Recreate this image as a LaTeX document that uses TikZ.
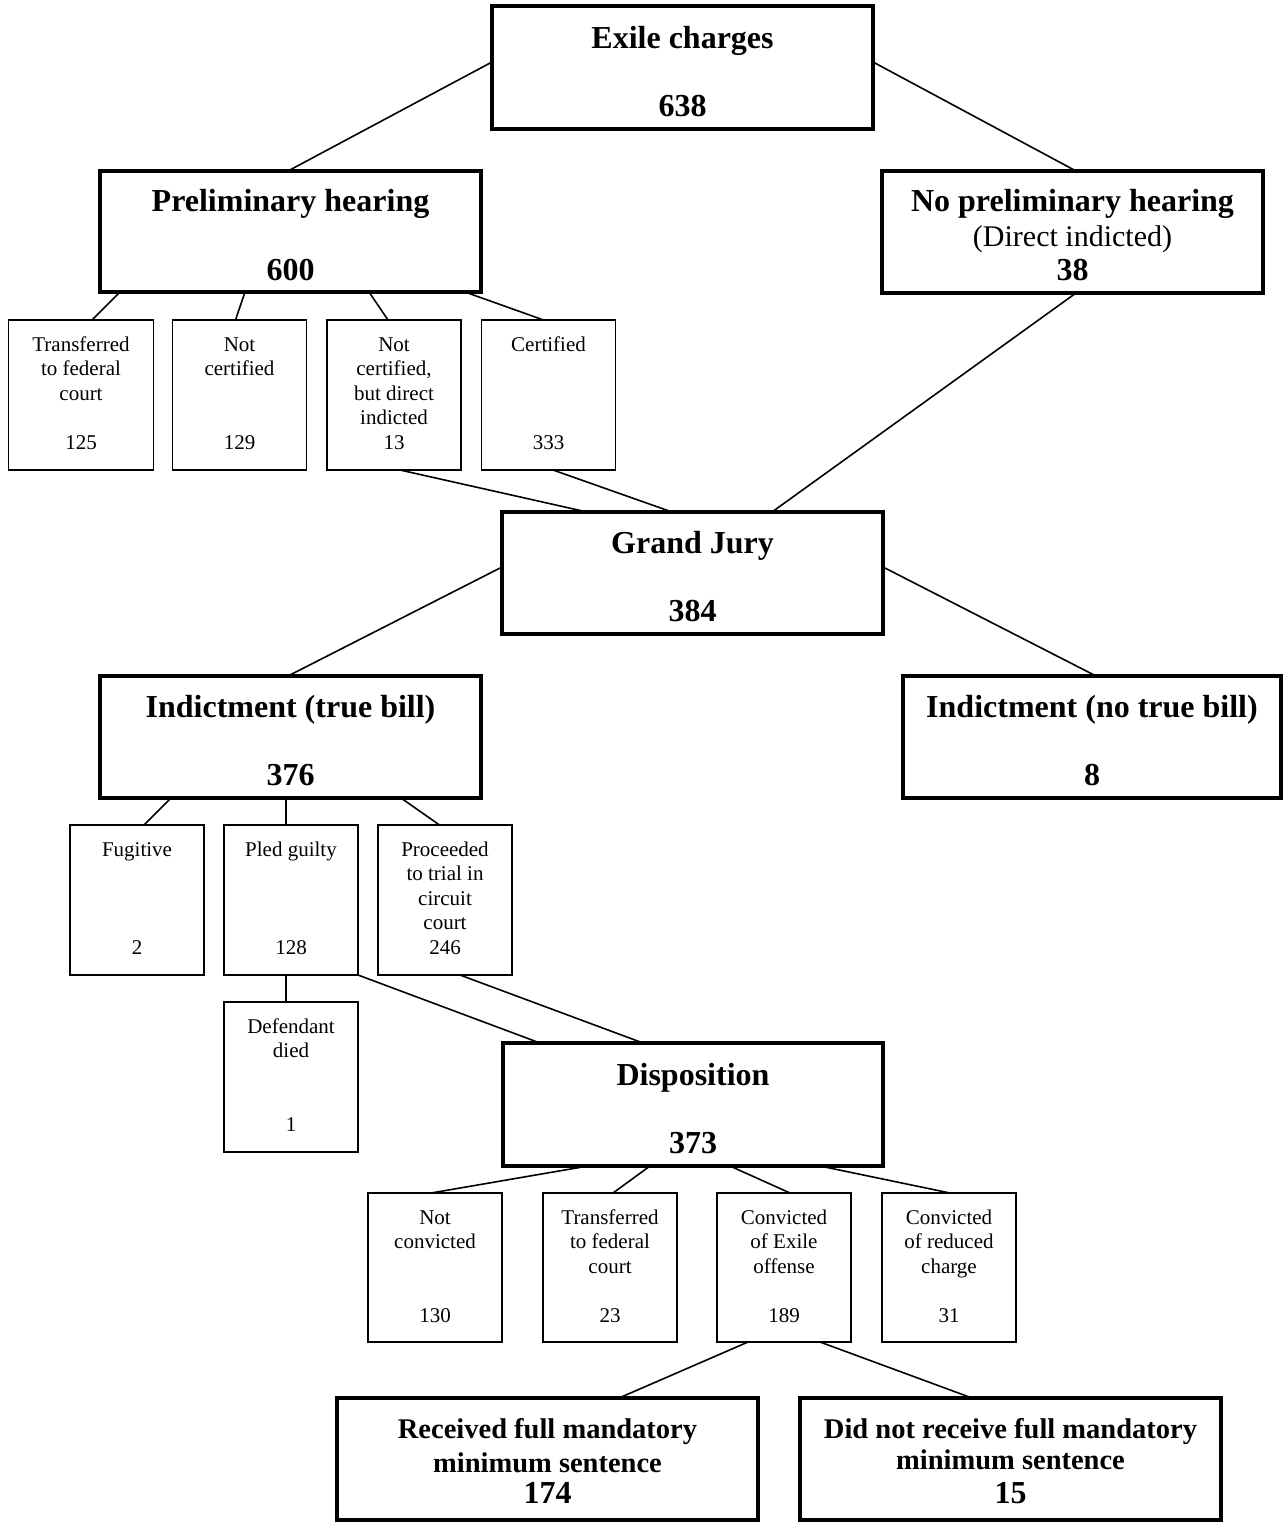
\documentclass[tikz,border=0pt]{standalone}
\usepackage{fontspec}
\setmainfont{Liberation Serif}
\usetikzlibrary{calc}
\newcounter{tn}
\newcommand\tl[4][sm]{\stepcounter{tn}\edef\tnm{tl\arabic{tn}}\node[#1] (\tnm) at (#2,#3) {#4};}
\tikzset{
  big/.style={draw, line width=3.6pt, inner sep=0pt, outer sep=0pt},
  small/.style={draw, line width=1.6pt, inner sep=0pt, outer sep=0pt, minimum height=150pt, minimum width=134pt},
  sm/.style={anchor=base, inner sep=0pt, font=\fontsize{21}{24}\selectfont},
  bf/.style={anchor=base, inner sep=0pt, font=\fontsize{32}{36}\selectfont\bfseries},
  bfs/.style={anchor=base, inner sep=0pt, font=\fontsize{28.5}{32}\selectfont\bfseries},
  rg/.style={anchor=base, inner sep=0pt, font=\fontsize{30}{34}\selectfont},
  conn/.style={line width=1.6pt}
}
\begin{document}
\begin{tikzpicture}[x=1pt,y=-1pt]
\useasboundingbox (0,0) rectangle (1283,1522);
\fill[white] (0,0) rectangle (1283,1522);
% big boxes
\node[big, minimum width=381pt, minimum height=123pt] (ex) at (682.5,67.5) {};
\node[big, minimum width=381pt, minimum height=121pt] (pre) at (290.5,231.5) {};
\node[big, minimum width=381pt, minimum height=122pt] (np) at (1072.5,232) {};
\node[big, minimum width=381pt, minimum height=122pt] (gj) at (692.5,573) {};
\node[big, minimum width=381pt, minimum height=122pt] (ind) at (290.5,737) {};
\node[big, minimum width=378pt, minimum height=122pt] (ntb) at (1092,737) {};
\node[big, minimum width=380pt, minimum height=123pt] (disp) at (693,1104.5) {};
\node[big, minimum width=421pt, minimum height=122pt] (rec) at (547.5,1459) {};
\node[big, minimum width=421pt, minimum height=122pt] (dn) at (1010.5,1459) {};
% small boxes
\node[small, minimum width=145pt] (b1) at (81,395) {};
\node[small] (b2) at (239.5,395) {};
\node[small] (b3) at (394,395) {};
\node[small] (b4) at (548.5,395) {};
\node[small] (fug) at (137,900) {};
\node[small] (pg) at (291,900) {};
\node[small] (proc) at (445,900) {};
\node[small] (dd) at (291,1077) {};
\node[small, minimum height=149pt] (nc) at (435,1267.5) {};
\node[small, minimum height=149pt] (tf) at (610,1267.5) {};
\node[small, minimum height=149pt] (ce) at (784,1267.5) {};
\node[small, minimum height=149pt] (cr) at (949,1267.5) {};
% texts big
\tl[bf]{682.5}{49}{Exile charges}
\tl[bf]{682.5}{117}{638}
\tl[bf]{290.5}{212}{Preliminary hearing}
\tl[bf]{290.5}{280}{600}
\tl[bf]{1072.5}{212}{No preliminary hearing}
\tl[rg]{1072.5}{247}{(Direct indicted)}
\tl[bf]{1072.5}{280}{38}
\tl[bf]{692.5}{553}{Grand Jury}
\tl[bf]{692.5}{621}{384}
\tl[bf]{290.5}{717}{Indictment (true bill)}
\tl[bf]{290.5}{785}{376}
\tl[bf]{1092}{717}{Indictment (no true bill)}
\tl[bf]{1092}{785}{8}
\tl[bf]{693}{1085}{Disposition}
\tl[bf]{693}{1153}{373}
\tl[bfs]{547.5}{1438}{Received full mandatory}
\tl[bfs]{547.5}{1472}{minimum sentence}
\tl[bf]{547.5}{1503}{174}
\tl[bfs]{1010.5}{1438}{Did not receive full mandatory}
\tl[bfs]{1010.5}{1469}{minimum sentence}
\tl[bf]{1010.5}{1503}{15}
% row 1
\tl{81}{351}{Transferred}
\tl{81}{375.5}{to federal}
\tl{81}{400}{court}
\tl{81}{449}{125}
\tl{239.5}{351}{Not}
\tl{239.5}{375.5}{certified}
\tl{239.5}{449}{129}
\tl{394}{351}{Not}
\tl{394}{375.5}{certified,}
\tl{394}{400}{but direct}
\tl{394}{424.5}{indicted}
\tl{394}{449}{13}
\tl{548.5}{351}{Certified}
\tl{548.5}{449}{333}
% row 2
\tl{137}{856}{Fugitive}
\tl{137}{954}{2}
\tl{291}{856}{Pled guilty}
\tl{291}{954}{128}
\tl{445}{856}{Proceeded}
\tl{445}{880.5}{to trial in}
\tl{445}{905}{circuit}
\tl{445}{929.5}{court}
\tl{445}{954}{246}
\tl{291}{1033}{Defendant}
\tl{291}{1057.5}{died}
\tl{291}{1131}{1}
% row 3
\tl{435}{1224}{Not}
\tl{435}{1248.5}{convicted}
\tl{435}{1322}{130}
\tl{610}{1224}{Transferred}
\tl{610}{1248.5}{to federal}
\tl{610}{1273}{court}
\tl{610}{1322}{23}
\tl{784}{1224}{Convicted}
\tl{784}{1248.5}{of Exile}
\tl{784}{1273}{offense}
\tl{784}{1322}{189}
\tl{949}{1224}{Convicted}
\tl{949}{1248.5}{of reduced}
\tl{949}{1273}{charge}
\tl{949}{1322}{31}
% connectors
\draw[conn] ([yshift=5.5pt]ex.west) -- ([xshift=-2.5pt]pre.north);
\draw[conn] ([yshift=5.5pt]ex.east) -- ([xshift=3.5pt]np.north);
\draw[conn] ([xshift=-170.5pt]pre.south) -- ([xshift=11pt]b1.north);
\draw[conn] ([xshift=-45.5pt]pre.south) -- ([xshift=-4pt]b2.north);
\draw[conn] ([xshift=78.5pt]pre.south) -- ([xshift=-6pt]b3.north);
\draw[conn] ([xshift=174.5pt]pre.south) -- ([xshift=-5pt]b4.north);
\draw[conn] ([xshift=6pt]b3.south) -- ([xshift=-105.5pt]gj.north);
\draw[conn] ([xshift=4.5pt]b4.south) -- ([xshift=-20.5pt]gj.north);
\draw[conn] ([xshift=3.5pt]np.south) -- ([xshift=79.5pt]gj.north);
\draw[conn] ([yshift=6pt]gj.west) -- ([xshift=-2.5pt]ind.north);
\draw[conn] ([yshift=6pt]gj.east) -- ([xshift=4pt]ntb.north);
\draw[conn] ([xshift=-119.5pt]ind.south) -- ([xshift=7pt]fug.north);
\draw[conn] ([xshift=-4.5pt]ind.south) -- ([xshift=-5pt]pg.north);
\draw[conn] ([xshift=110.5pt]ind.south) -- ([xshift=-5.5pt]proc.north);
\draw[conn] ([xshift=-5pt]pg.south) -- ([xshift=-5pt]dd.north);
\draw[conn] (pg.south east) -- ([xshift=-153pt]disp.north);
\draw[conn] ([xshift=15pt]proc.south) -- ([xshift=-50pt]disp.north);
\draw[conn] ([xshift=-105pt]disp.south) -- ([xshift=-4pt]nc.north);
\draw[conn] ([xshift=-43pt]disp.south) -- ([xshift=3pt]tf.north);
\draw[conn] ([xshift=37pt]disp.south) -- ([xshift=6pt]ce.north);
\draw[conn] ([xshift=127pt]disp.south) -- ([xshift=1pt]cr.north);
\draw[conn] ([xshift=-36pt]ce.south) -- ([xshift=71.5pt]rec.north);
\draw[conn] ([xshift=36pt]ce.south) -- ([xshift=-38.5pt]dn.north);
\end{tikzpicture}
\end{document}
